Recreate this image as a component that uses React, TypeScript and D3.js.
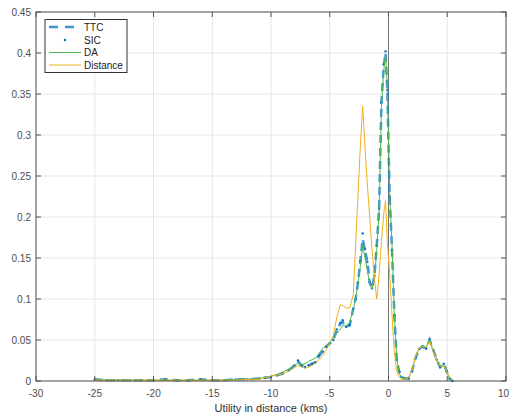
import React from 'react';
import * as d3 from 'd3';

const xValues = [
  -25, -24, -23, -22, -21, -20, -19, -18, -17, -16, -15, -14, -13, -12, -11,
  -10.5, -10, -9.5, -9, -8.5, -8,
  -7.7, -7.4, -7.1, -6.8, -6.5, -6.2, -5.9, -5.6, -5.3, -5.0, -4.7, -4.4, -4.1,
  -3.9, -3.6, -3.3, -3.0,
  -2.8, -2.6, -2.4, -2.2, -2.0, -1.8, -1.6, -1.4, -1.2, -1.0, -0.8, -0.6, -0.4,
  -0.25, -0.1,
  0.1, 0.3, 0.5, 0.7, 0.9, 1.1,
  1.4, 1.7, 2.0, 2.3, 2.6, 2.9, 3.2, 3.5, 3.8, 4.1, 4.4, 4.7,
  4.95, 5.2, 5.45,
];

const ttcValues = [
  0.002, 0.001, 0.001, 0.001, 0.001, 0.001, 0.002, 0.001, 0.001, 0.002, 0.001, 0.001, 0.002, 0.002, 0.003,
  0.004, 0.005, 0.007, 0.009, 0.013, 0.019,
  0.024, 0.019, 0.017, 0.019, 0.021, 0.023, 0.031, 0.036, 0.042, 0.046, 0.05, 0.062, 0.07,
  0.072, 0.066, 0.068, 0.088,
  0.1, 0.12, 0.145, 0.173, 0.16, 0.145, 0.12, 0.113, 0.128, 0.165, 0.21, 0.34, 0.385,
  0.4, 0.355,
  0.225, 0.16, 0.08, 0.026, 0.012, 0.005,
  0.003, 0.003, 0.012, 0.028, 0.039, 0.042, 0.04, 0.05, 0.038, 0.026, 0.017, 0.021,
  0.012, 0.003, 0.0,
];

const sicValues = [
  0.002, 0.001, 0.001, 0.001, 0.001, 0.001, 0.002, 0.001, 0.001, 0.002, 0.001, 0.001, 0.002, 0.002, 0.003,
  0.004, 0.005, 0.007, 0.009, 0.013, 0.019,
  0.025, 0.019, 0.017, 0.019, 0.021, 0.023, 0.031, 0.036, 0.042, 0.046, 0.05, 0.063, 0.071,
  0.074, 0.066, 0.068, 0.088,
  0.1, 0.12, 0.146, 0.18, 0.161, 0.145, 0.12, 0.113, 0.128, 0.165, 0.21, 0.34, 0.386,
  0.402, 0.355,
  0.225, 0.16, 0.08, 0.026, 0.012, 0.005,
  0.003, 0.003, 0.012, 0.028, 0.039, 0.042, 0.04, 0.051, 0.038, 0.026, 0.017, 0.021,
  0.012, 0.003, 0.0,
];

const daValues = [
  0.002, 0.001, 0.001, 0.001, 0.001, 0.001, 0.001, 0.001, 0.001, 0.001, 0.001, 0.001, 0.002, 0.002, 0.003,
  0.004, 0.006, 0.008, 0.011, 0.0145, 0.019,
  0.022, 0.02, 0.021, 0.024, 0.026, 0.028, 0.034, 0.04, 0.043, 0.047, 0.053, 0.058, 0.063,
  0.068, 0.067, 0.072, 0.087,
  0.1, 0.118, 0.14, 0.166, 0.15, 0.135, 0.118, 0.112, 0.125, 0.16, 0.205, 0.335, 0.38,
  0.398, 0.36,
  0.23, 0.165, 0.08, 0.028, 0.01, 0.004,
  0.003, 0.004, 0.013, 0.029, 0.04, 0.042, 0.041, 0.051, 0.037, 0.025, 0.018, 0.02,
  0.011, 0.003, 0.0,
];

const distanceValues = [
  0.001, 0.001, 0.001, 0.001, 0.001, 0.001, 0.001, 0.001, 0.001, 0.001, 0.001, 0.001, 0.001, 0.002, 0.002,
  0.004, 0.006, 0.007, 0.009, 0.012, 0.016,
  0.019, 0.017, 0.0155, 0.017, 0.019, 0.022, 0.026, 0.031, 0.038, 0.046, 0.055, 0.078, 0.093,
  0.092, 0.089, 0.089, 0.105,
  0.165, 0.225, 0.285, 0.335, 0.285, 0.24, 0.2, 0.16, 0.125, 0.1, 0.13, 0.17, 0.205,
  0.22, 0.17,
  0.13, 0.08, 0.035, 0.012, 0.005, 0.002,
  0.002, 0.004, 0.013, 0.03, 0.04, 0.042, 0.041, 0.048, 0.036, 0.026, 0.018, 0.018,
  0.012, 0.005, 0.001,
];

const xTicks = [-30, -25, -20, -15, -10, -5, 0, 5, 10];
const yTicks = [0, 0.05, 0.1, 0.15, 0.2, 0.25, 0.3, 0.35, 0.4, 0.45];
const yTickLabels = ['0', '0.05', '0.1', '0.15', '0.2', '0.25', '0.3', '0.35', '0.4', '0.45'];
const legendLabels = ['TTC', 'SIC', 'DA', 'Distance'];
const xLabel = 'Utility in distance (kms)';

const BLUE = '#0072BD';
const GREEN = '#4fb94f';
const YELLOW = '#EDB120';
const FONT = '"Liberation Sans", Arial, Helvetica, sans-serif';

export default function App() {
  const W = 510;
  const H = 420;
  const x = d3.scaleLinear().domain([-30, 10]).range([36, 506]);
  const y = d3.scaleLinear().domain([0, 0.45]).range([381, 12]);
  const [x0, x1] = x.range();
  const [y0, y1] = y.range();

  const mk = (vals: number[]) =>
    d3
      .line<number>()
      .x((_, i) => x(xValues[i]))
      .y((d) => y(d))(vals.slice(0, xValues.length)) || '';

  const axisColor = '#555';
  const tickLen = 5;

  const lx0 = 49, lx1 = 81, ltx = 84;
  const lys = [27, 40, 52.5, 65];

  return (
    <svg
      width={W}
      height={H}
      style={{ position: 'absolute', left: 0, top: 0, background: '#fff' }}
      fontFamily={FONT}
    >
      <rect x={0} y={0} width={W} height={H} fill="#fff" />
      {/* grid */}
      {xTicks.map((t) => (
        <line key={'gx' + t} x1={x(t)} x2={x(t)} y1={y1} y2={y0} stroke="#e6e6e6" strokeWidth={1} />
      ))}
      {yTicks.map((t) => (
        <line key={'gy' + t} x1={x0} x2={x1} y1={y(t)} y2={y(t)} stroke="#e6e6e6" strokeWidth={1} />
      ))}
      {/* zero line */}
      <line x1={x(0)} x2={x(0)} y1={y1} y2={y0} stroke="#777" strokeWidth={1} />

      {/* series */}
      <path d={mk(ttcValues)} fill="none" stroke={BLUE} strokeOpacity={0.75} strokeWidth={2.5} strokeDasharray="8,5" />
      {sicValues.map((v, i) => (
        <circle key={'s' + i} cx={x(xValues[i])} cy={y(v)} r={1.2} fill={BLUE} />
      ))}
      <path d={mk(daValues)} fill="none" stroke={GREEN} strokeWidth={1} />
      <path d={mk(distanceValues)} fill="none" stroke={YELLOW} strokeWidth={1} />

      {/* axes box */}
      <rect x={x0} y={y1} width={x1 - x0} height={y0 - y1} fill="none" stroke={axisColor} strokeWidth={1} />
      {xTicks.map((t, i) => (
        <g key={'tx' + t}>
          <line x1={x(t)} x2={x(t)} y1={y0} y2={y0 - tickLen} stroke={axisColor} />
          <line x1={x(t)} x2={x(t)} y1={y1} y2={y1 + tickLen} stroke={axisColor} />
          <text
            x={i === xTicks.length - 1 ? 509 : x(t)}
            y={397}
            textAnchor={i === xTicks.length - 1 ? 'end' : 'middle'}
            fontSize={10}
            fill="#4d4d4d"
          >
            {String(t)}
          </text>
        </g>
      ))}
      {yTicks.map((t, i) => (
        <g key={'ty' + t}>
          <line x1={x0} x2={x0 + tickLen} y1={y(t)} y2={y(t)} stroke={axisColor} />
          <line x1={x1} x2={x1 - tickLen} y1={y(t)} y2={y(t)} stroke={axisColor} />
          <text x={31} y={y(t) + 3.5} textAnchor="end" fontSize={10} fill="#4d4d4d">
            {yTickLabels[i]}
          </text>
        </g>
      ))}
      <text x={(x0 + x1) / 2} y={412} textAnchor="middle" fontSize={11} fill="#333">
        {xLabel}
      </text>

      {/* legend */}
      <rect x={45} y={19.5} width={82} height={53} fill="#fff" stroke="#333" strokeWidth={1} />
      <line x1={lx0} x2={lx1} y1={lys[0]} y2={lys[0]} stroke={BLUE} strokeOpacity={0.75} strokeWidth={2.5} strokeDasharray="9,7" />
      <circle cx={(lx0 + lx1) / 2} cy={lys[1]} r={1.2} fill={BLUE} />
      <line x1={lx0} x2={lx1} y1={lys[2]} y2={lys[2]} stroke={GREEN} strokeWidth={1} />
      <line x1={lx0} x2={lx1} y1={lys[3]} y2={lys[3]} stroke={YELLOW} strokeWidth={1} />
      {legendLabels.map((l, i) => (
        <text key={l} x={ltx} y={lys[i] + 3.5} fontSize={10} fill="#222">
          {l}
        </text>
      ))}
    </svg>
  );
}
